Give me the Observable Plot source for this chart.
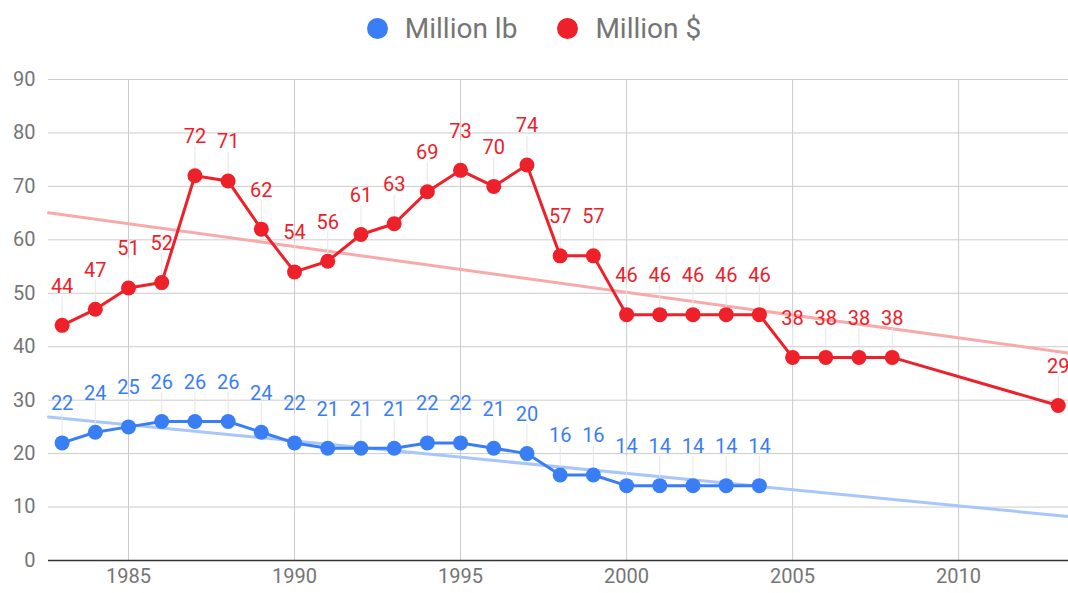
<!DOCTYPE html>
<html><head><meta charset="utf-8">
<script src="https://cdn.jsdelivr.net/npm/d3@7"></script>
<script src="https://cdn.jsdelivr.net/npm/@observablehq/plot@0.6"></script>
<style>
body{margin:0;background:#fff;font-family:Roboto,sans-serif;}
#legend{height:56px;display:flex;justify-content:center;align-items:center;font-size:28px;color:#757575;}
.item{display:flex;align-items:center;margin:0 20px;}
.dot{width:21px;height:21px;border-radius:50%;margin-right:17px;}
#chart svg{display:block;}
</style></head><body>
<div id="legend"></div><div id="chart"></div>
<script>
const seriesNames = ["Million lb", "Million $"];
const seriesColors = ["#3a7ef6", "#ee2029"];
const trendColors = ["#a9c6fb", "#f7aaaa"];

const lbYears = [1983,1984,1985,1986,1987,1988,1989,1990,1991,1992,1993,1994,1995,1996,1997,1998,1999,2000,2001,2002,2003,2004];
const lbValues = [22,24,25,26,26,26,24,22,21,21,21,22,22,21,20,16,16,14,14,14,14,14];

const usdYears = [1983,1984,1985,1986,1987,1988,1989,1990,1991,1992,1993,1994,1995,1996,1997,1998,1999,2000,2001,2002,2003,2004,2005,2006,2007,2008,2013];
const usdValues = [44,47,51,52,72,71,62,54,56,61,63,69,73,70,74,57,57,46,46,46,46,46,38,38,38,38,29];

const xTicks = [1985,1990,1995,2000,2005,2010];
const yTicks = [0,10,20,30,40,50,60,70,80,90];
const xDomain = [1982.59, 2013.31];
const yDomain = [0, 90];

// legend
const leg = document.getElementById("legend");
seriesNames.forEach((n, i) => {
  const it = document.createElement("div"); it.className = "item";
  const d = document.createElement("div"); d.className = "dot"; d.style.background = seriesColors[i];
  const t = document.createElement("span"); t.textContent = n;
  it.appendChild(d); it.appendChild(t); leg.appendChild(it);
});

const lb = lbYears.map((y, i) => ({year: y, value: lbValues[i]}));
const usd = usdYears.map((y, i) => ({year: y, value: usdValues[i]}));

function trend(data) {
  const mx = d3.mean(data, d => d.year), my = d3.mean(data, d => d.value);
  const sxy = d3.sum(data, d => (d.year - mx) * (d.value - my));
  const sxx = d3.sum(data, d => (d.year - mx) ** 2);
  const b = sxy / sxx, a = my - b * mx;
  return xDomain.map(x => ({year: x, value: a + b * x}));
}

const series = [lb, usd];
const marks = [
  Plot.gridY(yTicks, {stroke: "#cccccc", strokeOpacity: 1}),
  Plot.gridX(xTicks, {stroke: "#cccccc", strokeOpacity: 1}),
  Plot.axisY(yTicks, {tickSize: 0, tickPadding: 13, fontSize: 20, color: "#757575", label: null}),
  Plot.axisX(xTicks, {tickSize: 0, tickPadding: 8, fontSize: 20, color: "#757575", label: null, tickFormat: d => String(d)}),
  Plot.ruleY([0], {stroke: "#333", strokeWidth: 1.5})
];
series.forEach((s, i) => {
  marks.push(Plot.line(trend(s), {x: "year", y: "value", stroke: trendColors[i], strokeWidth: 3}));
});
series.forEach((s, i) => {
  marks.push(Plot.ruleX(s, {x: "year", y1: "value", y2: "value", insetTop: -29, stroke: "#e6e6e6", strokeWidth: 1}));
});
series.forEach((s, i) => {
  marks.push(Plot.line(s, {x: "year", y: "value", stroke: seriesColors[i], strokeWidth: 3}));
  marks.push(Plot.dot(s, {x: "year", y: "value", r: 7.5, fill: seriesColors[i], stroke: "none"}));
  marks.push(Plot.text(s, {x: "year", y: "value", text: d => String(d.value), dy: -39, fontSize: 20, fill: seriesColors[i]}));
});

const chart = Plot.plot({
  width: 1068, height: 537,
  marginLeft: 48, marginRight: 0, marginTop: 23, marginBottom: 33,
  style: {fontFamily: "Roboto, sans-serif", background: "#fff", overflow: "visible"},
  x: {domain: xDomain, axis: null},
  y: {domain: yDomain, axis: null},
  marks
});
document.getElementById("chart").appendChild(chart);
</script>
</body></html>
